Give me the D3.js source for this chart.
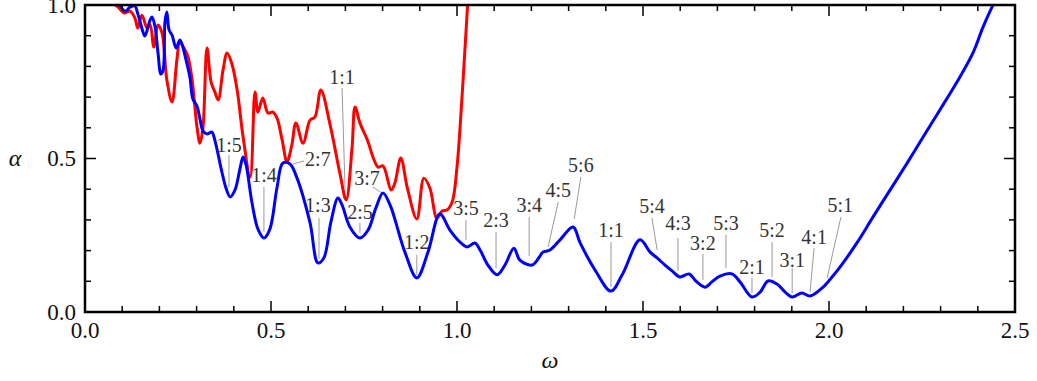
<!DOCTYPE html>
<html>
<head>
<meta charset="utf-8">
<script src="https://cdn.jsdelivr.net/npm/d3@7"></script>
<style>
  html, body { margin: 0; padding: 0; background: #fff; }
  svg { display: block; }
</style>
</head>
<body>
<svg id="chart" width="1037" height="381"></svg>
<script>
// Instability tongue boundaries alpha(omega)
const blueOmega = [0.091,0.108,0.121,0.134,0.142,0.156,0.161,0.175,0.180,0.188,0.196,0.204,0.210,0.215,0.220,0.226,0.234,0.245,0.255,0.263,0.269,0.282,0.290,0.301,0.309,0.317,0.328,0.341,0.349,0.368,0.379,0.390,0.403,0.417,0.425,0.433,0.449,0.465,0.481,0.497,0.516,0.532,0.551,0.570,0.605,0.626,0.642,0.661,0.680,0.691,0.712,0.739,0.761,0.782,0.801,0.820,0.860,0.892,0.922,0.954,0.981,1.008,1.027,1.048,1.062,1.083,1.108,1.129,1.153,1.169,1.202,1.223,1.231,1.250,1.277,1.312,1.331,1.371,1.414,1.444,1.492,1.519,1.538,1.559,1.578,1.599,1.624,1.642,1.667,1.685,1.707,1.739,1.761,1.793,1.815,1.836,1.860,1.882,1.901,1.927,1.949,1.984,1.997,2.030,2.075,2.118,2.164,2.210,2.253,2.298,2.344,2.387,2.414,2.438,2.449];
const blueAlpha = [1.005,0.980,0.993,0.997,0.971,0.912,0.899,0.951,0.961,0.932,0.847,0.775,0.788,0.945,0.977,0.919,0.902,0.860,0.886,0.863,0.834,0.765,0.694,0.671,0.629,0.590,0.580,0.586,0.560,0.456,0.404,0.375,0.397,0.469,0.505,0.479,0.355,0.270,0.241,0.270,0.404,0.485,0.482,0.436,0.290,0.160,0.176,0.293,0.371,0.349,0.277,0.241,0.267,0.339,0.388,0.349,0.195,0.111,0.195,0.319,0.267,0.228,0.212,0.225,0.202,0.153,0.121,0.153,0.208,0.169,0.153,0.182,0.195,0.202,0.235,0.277,0.225,0.137,0.068,0.121,0.235,0.195,0.176,0.153,0.134,0.114,0.124,0.101,0.081,0.098,0.117,0.124,0.098,0.049,0.065,0.101,0.091,0.065,0.049,0.062,0.052,0.081,0.098,0.147,0.225,0.309,0.397,0.485,0.570,0.658,0.749,0.844,0.928,0.993,1.020];

const redOmega = [0.067,0.089,0.105,0.121,0.134,0.142,0.153,0.167,0.175,0.185,0.196,0.207,0.220,0.234,0.247,0.255,0.269,0.277,0.288,0.301,0.309,0.317,0.328,0.339,0.349,0.358,0.371,0.382,0.395,0.409,0.425,0.444,0.457,0.465,0.478,0.492,0.505,0.516,0.530,0.543,0.556,0.567,0.586,0.605,0.618,0.634,0.659,0.685,0.702,0.718,0.726,0.739,0.761,0.774,0.788,0.801,0.823,0.833,0.849,0.866,0.892,0.911,0.927,0.946,0.960,0.973,0.987,1.000,1.013,1.024,1.030,1.035];
const redAlpha = [1.010,0.993,0.974,0.980,0.958,0.925,0.967,0.925,0.935,0.863,0.935,0.909,0.756,0.684,0.821,0.879,0.853,0.831,0.756,0.603,0.550,0.599,0.860,0.749,0.717,0.691,0.788,0.844,0.808,0.723,0.570,0.440,0.717,0.651,0.697,0.648,0.651,0.632,0.560,0.489,0.544,0.616,0.550,0.625,0.635,0.723,0.609,0.453,0.365,0.537,0.668,0.616,0.554,0.505,0.472,0.476,0.397,0.420,0.502,0.407,0.303,0.436,0.404,0.306,0.329,0.332,0.358,0.472,0.691,0.909,1.016,1.050];

// Resonance annotations: text position and leader line (start -> end), in data units
const resText   = ["1:5","1:4","2:7","1:3","1:1","2:5","3:7","1:2","3:5","2:3","3:4","4:5","5:6","1:1","5:4","4:3","3:2","5:3","2:1","5:2","3:1","4:1","5:1"];
const resTextW  = [0.387,0.481,0.626,0.626,0.691,0.739,0.758,0.892,1.024,1.105,1.194,1.272,1.333,1.414,1.524,1.594,1.661,1.723,1.793,1.847,1.901,1.960,2.030];
const resTextA  = [0.544,0.446,0.498,0.349,0.765,0.326,0.436,0.228,0.339,0.300,0.349,0.397,0.479,0.267,0.345,0.290,0.225,0.290,0.147,0.267,0.169,0.244,0.349];
const resLineW1 = [0.387,0.481,0.589,0.629,0.691,0.739,0.774,0.892,1.024,1.105,1.194,1.272,1.333,1.414,1.524,1.594,1.661,1.723,1.793,1.847,1.901,1.960,2.032];
const resLineA1 = [0.511,0.407,0.492,0.306,0.730,0.290,0.407,0.186,0.300,0.261,0.309,0.358,0.440,0.228,0.306,0.241,0.189,0.251,0.111,0.228,0.143,0.208,0.309];
const resLineW2 = [0.387,0.481,0.559,0.629,0.699,0.739,0.798,0.892,1.024,1.105,1.194,1.245,1.315,1.414,1.538,1.594,1.661,1.723,1.793,1.847,1.901,1.949,1.995];
const resLineA2 = [0.407,0.261,0.482,0.173,0.404,0.257,0.388,0.121,0.235,0.143,0.182,0.212,0.303,0.081,0.202,0.134,0.104,0.143,0.062,0.114,0.062,0.065,0.111];

const xTicksMajor = [0, 0.5, 1.0, 1.5, 2.0, 2.5];
const yTicksMajor = [0, 0.5, 1.0];

(function draw() {
  const svg = d3.select("#chart");
  const mLeft = 85, mRight = 1015, mTop = 5, mBottom = 312;
  const x = d3.scaleLinear().domain([0, 2.5]).range([mLeft, mRight]);
  const y = d3.scaleLinear().domain([0, 1]).range([mBottom, mTop]);
  const serif = "Liberation Serif";

  svg.append("defs").append("clipPath").attr("id", "plot")
    .append("rect").attr("x", mLeft).attr("y", mTop)
    .attr("width", mRight - mLeft).attr("height", mBottom - mTop);

  const g = svg.append("g");

  // leader lines and resonance labels
  const ann = g.append("g");
  resText.forEach((t, i) => {
    ann.append("line")
      .attr("x1", x(resLineW1[i])).attr("y1", y(resLineA1[i]))
      .attr("x2", x(resLineW2[i])).attr("y2", y(resLineA2[i]))
      .attr("stroke", "#9a9a9a").attr("stroke-width", 1);
    ann.append("text")
      .attr("x", x(resTextW[i])).attr("y", y(resTextA[i]))
      .attr("dy", "0.35em")
      .attr("text-anchor", "middle")
      .attr("font-family", serif).style("font-size", "20px")
      .attr("fill", "#333")
      .text(t);
  });

  const line = d3.line().x(d => x(d[0])).y(d => y(d[1])).curve(d3.curveCatmullRom.alpha(0.5));

  const curves = g.append("g").attr("clip-path", "url(#plot)");
  curves.append("path")
    .attr("d", line(d3.zip(redOmega, redAlpha)))
    .attr("fill", "none").attr("stroke", "#ff0000").attr("stroke-width", 3)
    .attr("stroke-linejoin", "round");
  curves.append("path")
    .attr("d", line(d3.zip(blueOmega, blueAlpha)))
    .attr("fill", "none").attr("stroke", "#0000ff").attr("stroke-width", 3)
    .attr("stroke-linejoin", "round");

  // inward ticks on all four sides
  const xMinor = d3.range(0, 26).map(i => i / 10);
  const yMinor = d3.range(0, 11).map(i => i / 10);
  const isMajor = v => Math.abs(v * 2 - Math.round(v * 2)) < 1e-9;
  const ticks = g.append("g").attr("stroke", "#000").attr("stroke-width", 1.5);
  xMinor.forEach(v => {
    const L = isMajor(v) ? 11 : 6;
    ticks.append("line").attr("x1", x(v)).attr("x2", x(v)).attr("y1", mBottom).attr("y2", mBottom - L);
    ticks.append("line").attr("x1", x(v)).attr("x2", x(v)).attr("y1", mTop).attr("y2", mTop + L);
  });
  yMinor.forEach(v => {
    const L = isMajor(v) ? 11 : 6;
    ticks.append("line").attr("y1", y(v)).attr("y2", y(v)).attr("x1", mLeft).attr("x2", mLeft + L);
    ticks.append("line").attr("y1", y(v)).attr("y2", y(v)).attr("x1", mRight).attr("x2", mRight - L);
  });

  // frame
  g.append("rect").attr("x", mLeft).attr("y", mTop)
    .attr("width", mRight - mLeft).attr("height", mBottom - mTop)
    .attr("fill", "none").attr("stroke", "#000").attr("stroke-width", 2.5);

  // tick labels
  const fmt = d3.format(".1f");
  g.append("g").selectAll("text").data(xTicksMajor).join("text")
    .attr("x", d => x(d)).attr("y", mBottom + 26)
    .attr("text-anchor", "middle")
    .attr("font-family", serif).style("font-size", "23px").attr("fill", "#111")
    .text(fmt);
  g.append("g").selectAll("text").data(yTicksMajor).join("text")
    .attr("x", mLeft - 9).attr("y", d => y(d)).attr("dy", "0.33em")
    .attr("text-anchor", "end")
    .attr("font-family", serif).style("font-size", "23px").attr("fill", "#111")
    .text(fmt);

  // axis titles
  g.append("text").attr("x", 15).attr("y", y(0.5)).attr("dy", "0.3em")
    .attr("text-anchor", "middle")
    .attr("font-family", serif).style("font-style", "italic").style("font-size", "24px").attr("fill", "#111")
    .text("α");
  g.append("text").attr("x", x(1.25)).attr("y", 368)
    .attr("text-anchor", "middle")
    .attr("font-family", serif).style("font-style", "italic").style("font-size", "24px").attr("fill", "#111")
    .text("ω");
})();
</script>
</body>
</html>
